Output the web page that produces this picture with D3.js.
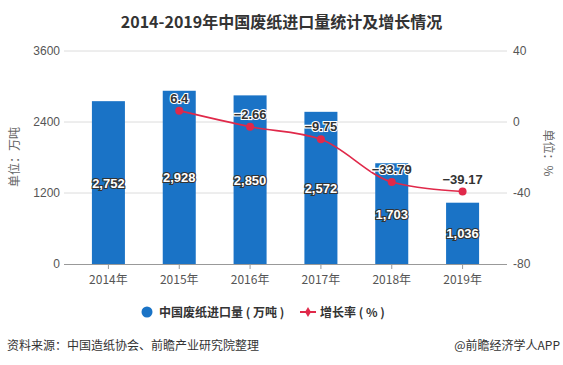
<!DOCTYPE html>
<html><head><meta charset="utf-8">
<script src="https://cdn.jsdelivr.net/npm/d3@7"></script>
<style>body{margin:0;background:#fff;}svg{display:block;font-family:"Noto Sans CJK SC","Microsoft YaHei",sans-serif;}</style>
</head><body>
<svg id="c" width="563" height="365"></svg>
<script>
const categories = ["2014年","2015年","2016年","2017年","2018年","2019年"];
const importVolume = [2752, 2928, 2850, 2572, 1703, 1036];
const growthRate = [null, 6.4, -2.66, -9.75, -33.79, -39.17];
const leftTicks = [0, 1200, 2400, 3600];
const rightTicks = [-80, -40, 0, 40];

const svg = d3.select("#c");
const W = 563, H = 365;
const plotL = 64, plotR = 507, plotT = 51, plotB = 264;

const x = d3.scaleBand().domain(categories).range([73, 498]).paddingInner(0.534).paddingOuter(0.267);
const yL = d3.scaleLinear().domain([0, 3600]).range([plotB, plotT]);
const yR = d3.scaleLinear().domain([-80, 40]).range([plotB, plotT]);

// title
svg.append("text").attr("x", W/2).attr("y", 28).attr("text-anchor","middle")
  .attr("font-size", 16).attr("font-weight","bold").attr("fill","#333")
  .text("2014-2019年中国废纸进口量统计及增长情况");

// gridlines
svg.append("g").selectAll("line").data(leftTicks.slice(1)).join("line")
  .attr("x1", plotL).attr("x2", plotR).attr("y1", d=>yL(d)).attr("y2", d=>yL(d))
  .attr("stroke","#dcdcdc").attr("stroke-width",1);

// left axis labels
svg.append("g").selectAll("text").data(leftTicks).join("text")
  .attr("x", 60).attr("y", d=>yL(d)+4).attr("text-anchor","end")
  .attr("font-size", 12).attr("fill","#555").attr("font-family","Arial, Liberation Sans, sans-serif").text(d=>d);
// right axis labels
svg.append("g").selectAll("text").data(rightTicks).join("text")
  .attr("x", 513).attr("y", d=>yR(d)+4).attr("text-anchor","start")
  .attr("font-size", 12).attr("fill","#555").attr("font-family","Arial, Liberation Sans, sans-serif").text(d=>d);

// axis titles
svg.append("text").attr("transform",`translate(19,157) rotate(-90)`).attr("text-anchor","middle")
  .attr("font-size",12).attr("fill","#666").text("单位：万吨");
svg.append("text").attr("transform",`translate(544,153) rotate(90)`).attr("text-anchor","middle")
  .attr("font-size",12).attr("fill","#666").text("单位：%");

// bars
svg.append("g").selectAll("rect").data(importVolume).join("rect")
  .attr("x",(d,i)=>x(categories[i])).attr("width",x.bandwidth())
  .attr("y",d=>yL(d)).attr("height",d=>yL(0)-yL(d)).attr("fill","#1a73c6");

// x axis line and ticks
svg.append("line").attr("x1",plotL).attr("x2",plotR).attr("y1",plotB+0.5).attr("y2",plotB+0.5).attr("stroke","#999");
svg.append("g").selectAll("line").data(categories).join("line")
  .attr("x1",d=>x(d)+x.bandwidth()/2).attr("x2",d=>x(d)+x.bandwidth()/2)
  .attr("y1",plotB).attr("y2",plotB+5).attr("stroke","#999");
svg.append("g").selectAll("text").data(categories).join("text")
  .attr("x",d=>x(d)+x.bandwidth()/2).attr("y",284).attr("text-anchor","middle")
  .attr("font-size",12).attr("fill","#555").text(d=>d);

// bar labels
const fmt = d3.format(",");
svg.append("g").selectAll("text").data(importVolume).join("text")
  .attr("x",(d,i)=>x(categories[i])+x.bandwidth()/2)
  .attr("y",d=>(yL(d)+yL(0))/2+5).attr("text-anchor","middle")
  .attr("font-size",13).attr("font-weight","bold").attr("fill","#fff")
  .attr("stroke","#333").attr("stroke-width",2.2).attr("paint-order","stroke")
  .attr("font-family","Arial, Liberation Sans, sans-serif")
  .text(d=>fmt(d));

// line
const pts = growthRate.map((v,i)=>({v, c:categories[i]})).filter(d=>d.v!==null);
const line = d3.line().x(d=>x(d.c)+x.bandwidth()/2).y(d=>yR(d.v)).curve(d3.curveMonotoneX);
svg.append("path").datum(pts).attr("d",line).attr("fill","none").attr("stroke","#e0294a").attr("stroke-width",1.6);
svg.append("g").selectAll("circle").data(pts).join("circle")
  .attr("cx",d=>x(d.c)+x.bandwidth()/2).attr("cy",d=>yR(d.v)).attr("r",4).attr("fill","#e0294a");
svg.append("g").selectAll("text").data(pts).join("text")
  .attr("x",d=>x(d.c)+x.bandwidth()/2).attr("y",d=>yR(d.v)-8).attr("text-anchor","middle")
  .attr("font-size",13).attr("font-weight","bold").attr("fill","#333")
  .attr("stroke","#fff").attr("stroke-width",2.2).attr("paint-order","stroke")
  .attr("font-family","Arial, Liberation Sans, sans-serif")
  .text(d=>d.v<0 ? "−"+Math.abs(d.v) : d.v);

// legend
svg.append("circle").attr("cx",147).attr("cy",312).attr("r",5.5).attr("fill","#1a73c6");
svg.append("text").attr("x",159).attr("y",316.5).attr("font-size",12).attr("font-weight","bold").attr("fill","#333").text("中国废纸进口量 ( 万吨 )");
svg.append("line").attr("x1",300).attr("x2",316).attr("y1",312).attr("y2",312).attr("stroke","#e0294a").attr("stroke-width",2);
svg.append("path").attr("d",d3.symbol(d3.symbolDiamond,30)()).attr("transform","translate(308,312)").attr("fill","#e0294a");
svg.append("text").attr("x",320).attr("y",316.5).attr("font-size",12).attr("font-weight","bold").attr("fill","#333").text("增长率 ( % )");

// footer
svg.append("text").attr("x",7).attr("y",350).attr("font-size",12).attr("fill","#333").text("资料来源：中国造纸协会、前瞻产业研究院整理");
svg.append("text").attr("x",560).attr("y",350).attr("text-anchor","end").attr("font-size",12).attr("fill","#333").text("@前瞻经济学人APP");
</script>
</body></html>
